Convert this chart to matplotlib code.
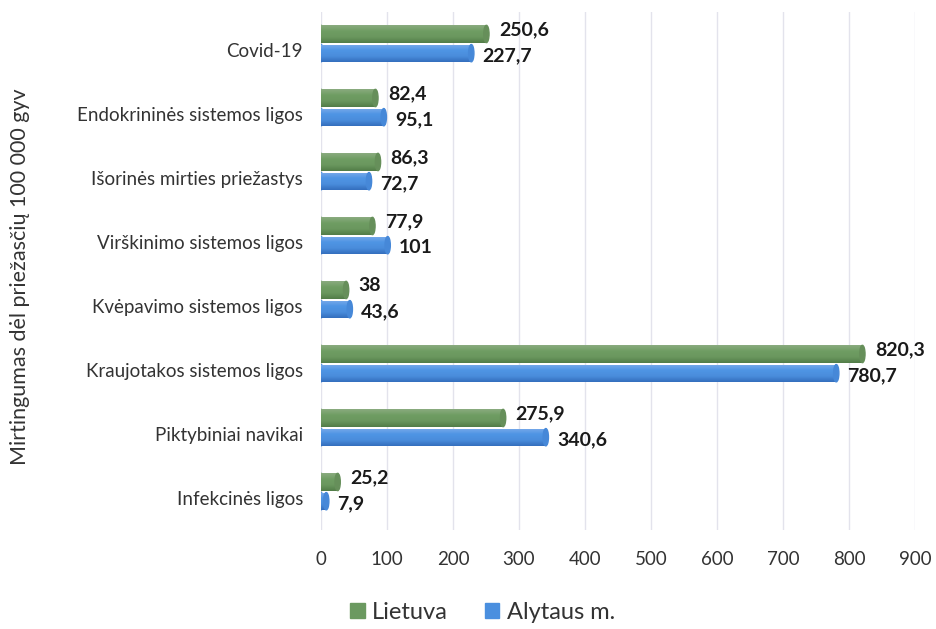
import numpy as np
import matplotlib.pyplot as plt
from matplotlib.patches import Patch, Ellipse
from matplotlib.colors import LinearSegmentedColormap

plt.rcParams['font.family'] = ['Lato', 'DejaVu Sans']

# Mirtingumas pagal priežastis, 100 000 gyv.
priezastys = ["Infekcinės ligos", "Piktybiniai navikai", "Kraujotakos sistemos ligos",
              "Kvėpavimo sistemos ligos", "Virškinimo sistemos ligos",
              "Išorinės mirties priežastys", "Endokrininės sistemos ligos", "Covid-19"]
lietuva = [25.2, 275.9, 820.3, 38, 77.9, 86.3, 82.4, 250.6]
alytus = [7.9, 340.6, 780.7, 43.6, 101, 72.7, 95.1, 227.7]
xticks = [0, 100, 200, 300, 400, 500, 600, 700, 800, 900]

green = "#6b9960"
blue = "#4a8fdf"
green_cm = LinearSegmentedColormap.from_list("g", ["#8aab7f", "#6f9d63", "#6a975e", "#527d48"])
blue_cm = LinearSegmentedColormap.from_list("b", ["#7aaaea", "#4f95e4", "#4a8ddc", "#346fbe"])

fig = plt.figure(figsize=(9.37, 6.29), dpi=100)
ax = fig.add_axes([0.3426, 0.1574, 0.6339, 0.8242])

y = np.arange(len(priezastys))
h = 0.27
cap = 8  # width of the round bar end, in data units
grad = np.linspace(0, 1, 64).reshape(-1, 1)


def shade(patch, x0, x1, y0, y1, cmap):
    im = ax.imshow(grad, cmap=cmap, aspect="auto", origin="upper",
                   extent=[x0, x1, y0, y1], zorder=3)
    im.set_clip_path(patch)


def cylinder(bars, cmap, edge):
    # gradient body plus rounded ends so each bar looks like a tube
    for b in bars:
        x0, y0 = b.get_x(), b.get_y()
        w, hh = b.get_width(), b.get_height()
        shade(b, x0, x0 + w, y0, y0 + hh, cmap)
        for xc, col in ((x0, None), (x0 + w, edge)):
            e = Ellipse((xc, y0 + hh / 2), cap, hh, color=col or b.get_facecolor(),
                        zorder=2.5 if col is None else 3.5)
            ax.add_patch(e)
            if col is None:
                shade(e, xc - cap, xc + cap, y0, y0 + hh, cmap)


gb = ax.barh(y + 0.25, lietuva, height=h, color=green, zorder=2)
bb = ax.barh(y - 0.05, alytus, height=h, color=blue, zorder=2)
cylinder(gb, green_cm, "#668f5a")
cylinder(bb, blue_cm, "#4688d8")

for yi, v in zip(y, lietuva):
    ax.annotate(f"{v:g}".replace(".", ","), (v, yi + 0.32), xytext=(9, 0),
                textcoords="offset points", va="center", ha="left",
                fontsize=14, fontweight="bold", color="#1a1a1a", clip_on=False)
for yi, v in zip(y, alytus):
    ax.annotate(f"{v:g}".replace(".", ","), (v, yi - 0.09), xytext=(8, 0),
                textcoords="offset points", va="center", ha="left",
                fontsize=14, fontweight="bold", color="#1a1a1a", clip_on=False)

ax.set_xlim(0, 900)
ax.set_ylim(-0.5, 7.6)
ax.set_xticks(xticks)
ax.set_yticks(y)
ax.set_yticklabels(priezastys)
ax.tick_params(axis="both", length=0, labelsize=13.5, labelcolor="#333333")
ax.tick_params(axis="x", pad=15)
ax.tick_params(axis="y", pad=13)
ax.grid(axis="x", color="#e3e3ec", linewidth=1, zorder=0)
ax.set_axisbelow(True)
for s in ax.spines.values():
    s.set_visible(False)

fig.text(0.021, 0.56, "Mirtingumas dėl priežasčių 100 000 gyv", rotation=90,
         ha="center", va="center", fontsize=15.5, color="#333333")

handles = [Patch(color=green, label="Lietuva"), Patch(color=blue, label="Alytaus m.")]
fig.legend(handles=handles, loc="center", bbox_to_anchor=(0.515, 0.027), ncol=2,
           frameon=False, fontsize=17, handlelength=0.6, handleheight=0.6,
           handletextpad=0.3, columnspacing=1.6, labelcolor="#333333")

fig.savefig("out.png", dpi=100)
